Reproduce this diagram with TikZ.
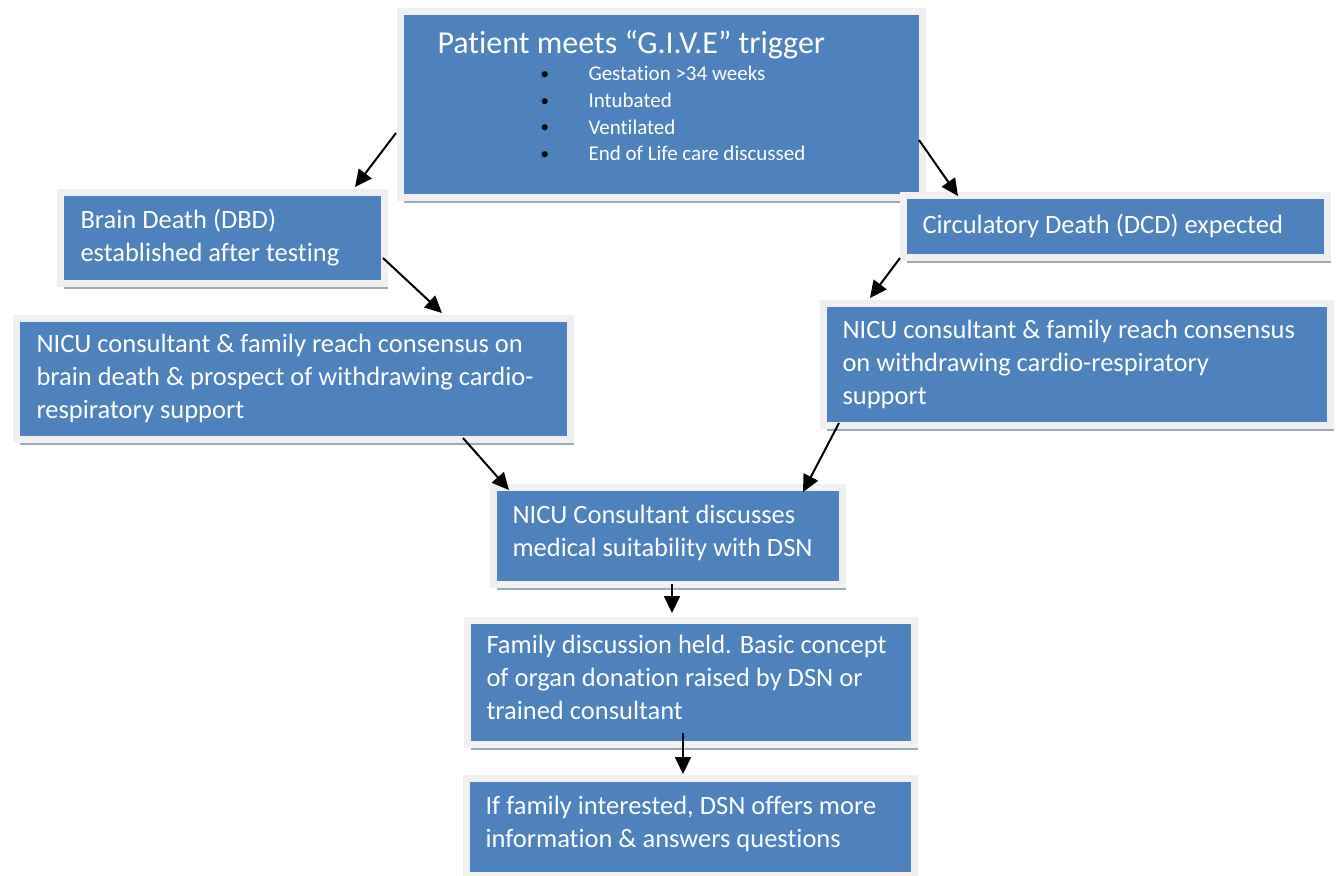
\documentclass[tikz,border=0pt]{standalone}
\usepackage{fontspec}
\setmainfont{Carlito}[Ligatures=NoCommon]
\usetikzlibrary{arrows.meta,shadows}
\definecolor{boxblue}{HTML}{4F81BD}
\definecolor{framegray}{HTML}{F0F0F0}
\definecolor{shadowgray}{HTML}{9EA8B6}
\newcommand{\bul}[1]{\hspace*{103pt}\makebox[48pt][l]{\raisebox{1.5pt}{\fontsize{17}{17}\selectfont\color{black}\textbullet}}\mbox{#1}}
\tikzset{
  box/.style={fill=boxblue, draw=framegray, line width=7pt, anchor=north west,
    text=white, align=flush left, inner xsep=0pt, inner ysep=0pt,
    font=\fontsize{26.5}{33}\selectfont,
    drop shadow={shadow xshift=4pt, shadow yshift=-6pt, fill=shadowgray, opacity=1}},
  conn/.style={line width=2pt, -{Triangle[length=17pt,width=16pt]}}
}
\begin{document}
\begin{tikzpicture}[x=1pt,y=-1pt]
\useasboundingbox (0,0) rectangle (1337,875);
% top box
\node[box, minimum width=522pt, minimum height=185pt, text width=447pt,
      font=\fontsize{21}{26.7}\selectfont] (top) at (396.5,8.5)
  {\mbox{\fontsize{32}{32}\selectfont Patient meets “G.I.V.E” trigger}\\[1pt]
   \bul{Gestation >34 weeks}\\
   \bul{Intubated}\\
   \bul{Ventilated}\\
   \bul{End of Life care discussed}\rule[-18pt]{0pt}{1pt}};
\node[box, minimum width=324pt, minimum height=91pt, text width=283pt] (bd) at (56.5,188.5)
  {\mbox{Brain Death (DBD)}\\\mbox{established after testing}};
\node[box, minimum width=424pt, minimum height=62pt, text width=385pt] (dcd) at (899.5,191.5)
  {\mbox{Circulatory Death (DCD) expected}};
\node[box, minimum width=554pt, minimum height=121pt, text width=513pt] (nl) at (12.5,314.5)
  {\mbox{NICU consultant \& family reach consensus on}\\\mbox{brain death \& prospect of withdrawing cardio-}\\\mbox{respiratory support}};
\node[box, minimum width=507pt, minimum height=122pt, text width=468pt] (nr) at (819.5,299.5)
  {\mbox{NICU consultant \& family reach consensus}\\\mbox{on withdrawing cardio-respiratory}\\\mbox{support}};
\node[box, minimum width=349pt, minimum height=97pt, text width=310pt] (cons) at (489.5,483.5)
  {\mbox{NICU Consultant discusses}\\\mbox{medical suitability with DSN}\rule[-10pt]{0pt}{1pt}};
\node[box, minimum width=447pt, minimum height=124pt, text width=408pt] (fam) at (463.5,616.5)
  {\mbox{Family discussion held. Basic concept}\\\mbox{of organ donation raised by DSN or}\\\mbox{trained consultant}\rule[-10pt]{0pt}{1pt}};
\node[box, minimum width=448pt, minimum height=97pt, text width=409pt] (iff) at (462.5,774.5)
  {\mbox{If family interested, DSN offers more}\\\mbox{information \& answers questions}\rule[-10pt]{0pt}{1pt}};
% connector end points
\coordinate (a1s) at (396,133);  \coordinate (a1e) at (355,187);
\coordinate (a2s) at (919,140);  \coordinate (a2e) at (958,196);
\coordinate (a3s) at (383,258);  \coordinate (a3e) at (442,313);
\coordinate (a4s) at (900,258);  \coordinate (a4e) at (870,298);
\coordinate (a5s) at (463,438);  \coordinate (a5e) at (509,490);
\coordinate (a6s) at (839,423);  \coordinate (a6e) at (803,492);
\coordinate (a7s) at (672,584);  \coordinate (a7e) at (672,613);
\coordinate (a8s) at (683,733);  \coordinate (a8e) at (683,774);
\draw[conn] (a1s) -- (a1e);
\draw[conn] (a2s) -- (a2e);
\draw[conn] (a3s) -- (a3e);
\draw[conn] (a4s) -- (a4e);
\draw[conn] (a5s) -- (a5e);
\draw[conn] (a6s) -- (a6e);
\draw[conn] (a7s) -- (a7e);
\draw[conn] (a8s) -- (a8e);
\end{tikzpicture}
\end{document}
